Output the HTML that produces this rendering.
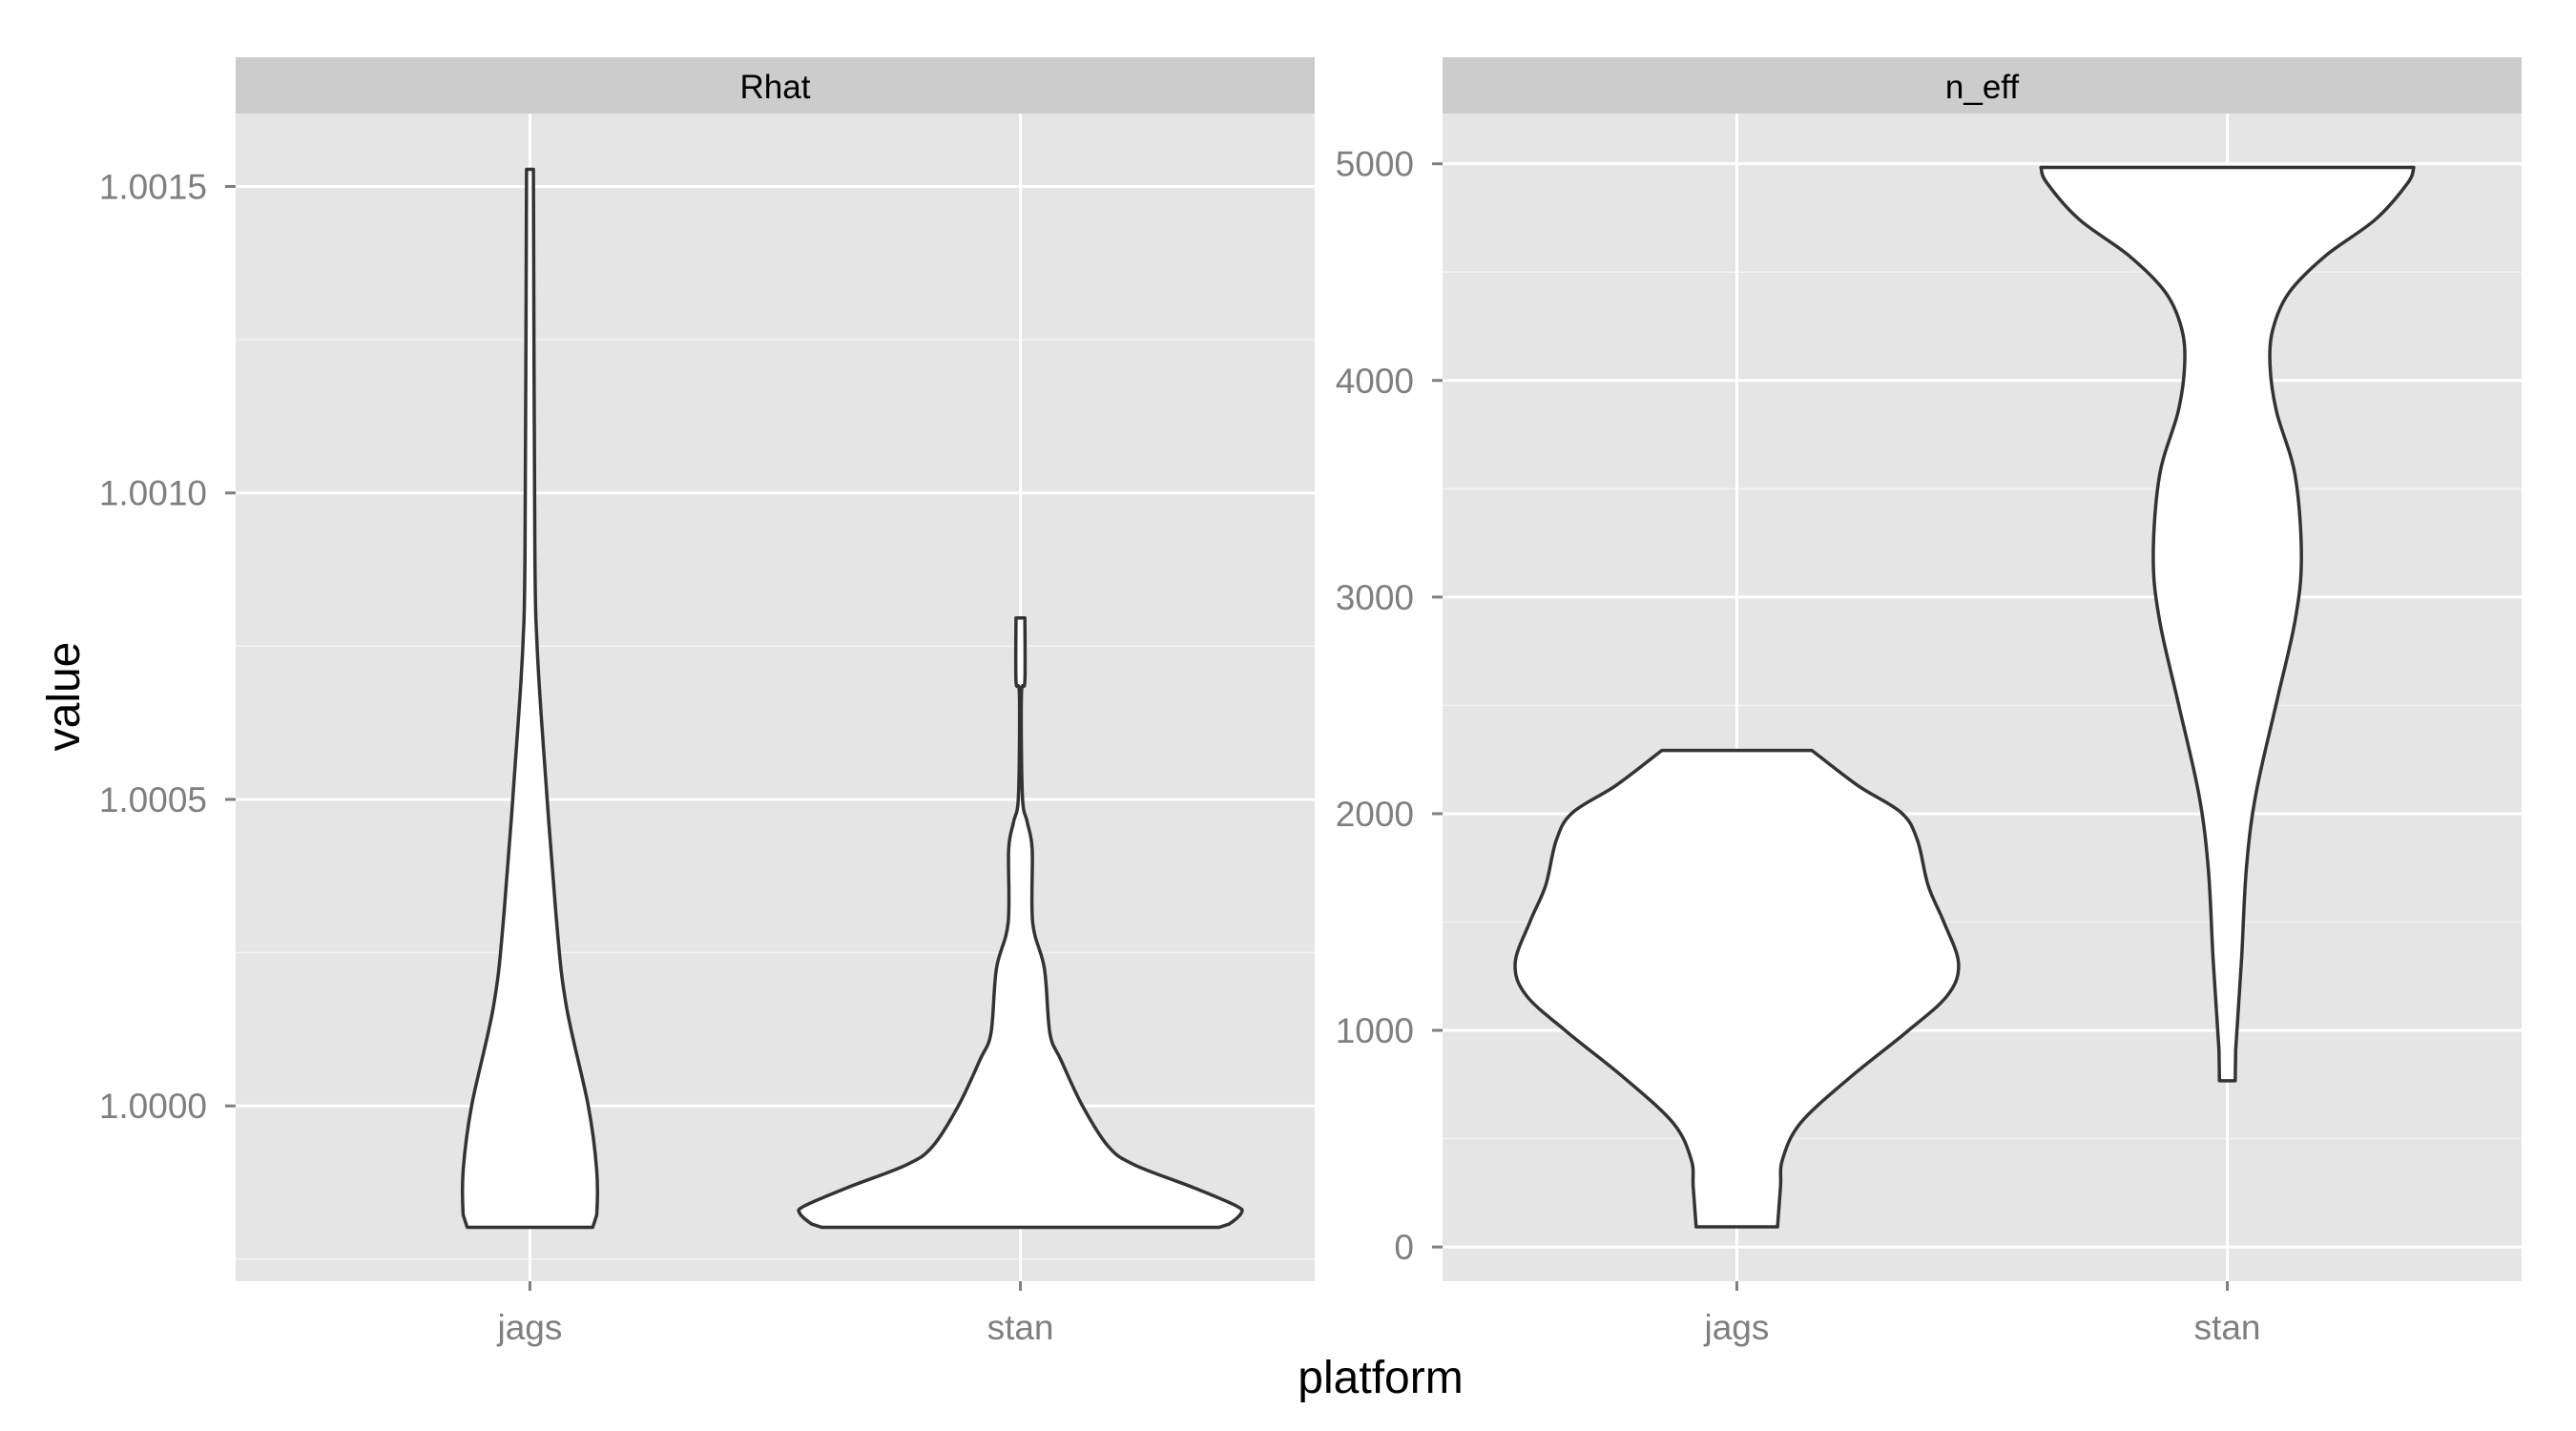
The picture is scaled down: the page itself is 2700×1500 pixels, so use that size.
<!DOCTYPE html>
<html><head><meta charset="utf-8"><style>
html,body{margin:0;padding:0;background:#fff;}
svg{display:block;font-family:"Liberation Sans",Arial,sans-serif;}
</style></head><body>
<svg id="chart" width="2700" height="1500" viewBox="0 0 2700 1500" xmlns="http://www.w3.org/2000/svg"></svg>
<script>
// ---- data ----
const categories = ["jags", "stan"];
const rhatTicks = [1.0000, 1.0005, 1.0010, 1.0015];
const rhatTickLabels = ["1.0000", "1.0005", "1.0010", "1.0015"];
const neffTicks = [0, 1000, 2000, 3000, 4000, 5000];
const neffTickLabels = ["0", "1000", "2000", "3000", "4000", "5000"];
// violin profiles: values and half-widths (fraction of category spacing)
const rhatJagsValues = [1.001528, 1.000909, 1.00076, 1.000625, 1.000313, 1.000164, 1.0000, 0.999896, 0.999822, 0.999802];
const rhatJagsWidths = [0.007, 0.010, 0.014, 0.024, 0.053, 0.074, 0.119, 0.136, 0.136, 0.128];
const rhatStanValues = [1.000796, 1.000693, 1.00067, 1.000506, 1.000463, 1.000418, 1.000299, 1.000224, 1.000119, 1.000076, 1.000001, 0.999934, 0.999904, 0.999867, 0.999837, 0.999825, 0.999807, 0.999802];
const rhatStanWidths = [0.009, 0.009, 0.002, 0.004, 0.014, 0.024, 0.025, 0.049, 0.06, 0.082, 0.126, 0.179, 0.232, 0.352, 0.44, 0.45, 0.425, 0.405];
const neffJagsValues = [2292, 2131, 2005, 1879, 1668, 1500, 1310, 1163, 994, 783, 573, 404, 278, 93];
const neffJagsWidths = [0.153, 0.246, 0.335, 0.368, 0.39, 0.422, 0.452, 0.43, 0.347, 0.231, 0.13, 0.093, 0.089, 0.083];
const neffStanValues = [4983, 4912, 4743, 4575, 4406, 4238, 4069, 3858, 3564, 3184, 2890, 2511, 2089, 1752, 1331, 910, 767];
const neffStanWidths = [0.38, 0.368, 0.302, 0.2, 0.126, 0.093, 0.087, 0.1, 0.138, 0.151, 0.138, 0.1, 0.058, 0.039, 0.029, 0.017, 0.016];

const NS = "http://www.w3.org/2000/svg";
const svg = document.getElementById("chart");
function mk(tag, attrs, parent) {
  const e = document.createElementNS(NS, tag);
  for (const k in attrs) e.setAttribute(k, attrs[k]);
  (parent || svg).appendChild(e);
  return e;
}
const top0 = 119, bot0 = 1343;

function panel(name, x0, x1, vTop, vBot, ticks, labels, title, violins, labelRight, tickX0) {
  const g = mk("g", {});
  
  
  const y = v => top0 + (vTop - v) / (vTop - vBot) * (bot0 - top0);
  const spacing = (x1 - x0) / 2.2;
  const xc = i => x0 + spacing * (0.6 + i);
  const bg = mk("rect", {x: x0, y: top0, width: x1 - x0, height: bot0 - top0, fill: "#e5e5e5"}, g);
  
  
  for (let i = 0; i < ticks.length + 1; i++) {
    const step = ticks[1] - ticks[0];
    const mv = ticks[0] + step * (i - 0.5);
    const yy = y(mv);
    if (yy > top0 && yy < bot0) {
      const l = mk("line", {x1: x0, x2: x1, y1: yy, y2: yy, stroke: "#f2f2f2", "stroke-width": 1.6}, g);
      
      
    }
  }
  ticks.forEach((t, i) => {
    const yy = y(t);
    const l = mk("line", {x1: x0, x2: x1, y1: yy, y2: yy, stroke: "#fff", "stroke-width": 3}, g);
    
    
    const tk = mk("line", {x1: tickX0, x2: x0, y1: yy, y2: yy, stroke: "#7f7f7f", "stroke-width": 3}, g);
    
    
    const tx = mk("text", {x: labelRight, y: yy + 13, "text-anchor": "end", "font-size": 37, fill: "#7f7f7f"}, g);
    tx.textContent = labels[i];
    
    
  });
  categories.forEach((c, i) => {
    const xx = xc(i);
    const l = mk("line", {x1: xx, x2: xx, y1: top0, y2: bot0, stroke: "#fff", "stroke-width": 3}, g);
    
    
    const tk = mk("line", {x1: xx, x2: xx, y1: bot0, y2: bot0 + 10, stroke: "#7f7f7f", "stroke-width": 3}, g);
    
    
    const tx = mk("text", {x: xx, y: 1404, "text-anchor": "middle", "font-size": 37, fill: "#7f7f7f"}, g);
    tx.textContent = c;
    
    
  });
  violins.forEach((vd, i) => {
    const vals = vd[0], ws = vd[1];
    const cx = xc(i);
    const right = vals.map((v, k) => [cx + ws[k] * spacing, y(v)]);
    const left = vals.map((v, k) => [cx - ws[k] * spacing, y(v)]).reverse();
    const pts = right.concat(left);
    const d = smooth(pts);
    const p = mk("path", {d: d, fill: "#fff", stroke: "#333", "stroke-width": 3.5, "stroke-linejoin": "round"}, g);
    
    
  });
  const st = mk("rect", {x: x0, y: 60, width: x1 - x0, height: top0 - 60, fill: "#cccccc"}, g);
  
  
  const stt = mk("text", {x: (x0 + x1) / 2, y: 103, "text-anchor": "middle", "font-size": 35, fill: "#000"}, g);
  stt.textContent = title;
  
  
}
function smooth(pts) {
  let d = "M" + pts[0][0].toFixed(1) + "," + pts[0][1].toFixed(1);
  for (let i = 0; i < pts.length - 1; i++) {
    const p0 = pts[Math.max(0, i - 1)], p1 = pts[i], p2 = pts[i + 1], p3 = pts[Math.min(pts.length - 1, i + 2)];
    const n = pts.length / 2;
    if (i === n - 1) { d += " L" + p2[0].toFixed(1) + "," + p2[1].toFixed(1); continue; }
    const t = (i === n - 2 || i === n) ? 0 : 1 / 6;
    const c1 = [p1[0] + (p2[0] - p0[0]) * t, p1[1] + (p2[1] - p0[1]) * t];
    const c2 = [p2[0] - (p3[0] - p1[0]) * t, p2[1] - (p3[1] - p1[1]) * t];
    d += " C" + c1[0].toFixed(1) + "," + c1[1].toFixed(1) + " " + c2[0].toFixed(1) + "," + c2[1].toFixed(1) + " " + p2[0].toFixed(1) + "," + p2[1].toFixed(1);
  }
  return d + " Z";
}
panel("rhat", 247, 1378, 1.001619, 0.999714, rhatTicks, rhatTickLabels, "Rhat",
  [[rhatJagsValues, rhatJagsWidths], [rhatStanValues, rhatStanWidths]], 217, 236);
panel("neff", 1512, 2643, 5232, -158, neffTicks, neffTickLabels, "n_eff",
  [[neffJagsValues, neffJagsWidths], [neffStanValues, neffStanWidths]], 1482, 1501);

const xt = mk("text", {x: 1447, y: 1460, "text-anchor": "middle", "font-size": 48, fill: "#000"});
xt.textContent = "platform";


const yt = mk("text", {x: 0, y: 0, "text-anchor": "middle", "font-size": 48, fill: "#000", transform: "translate(83,730) rotate(-90)"});
yt.textContent = "value";


</script>
</body></html>
